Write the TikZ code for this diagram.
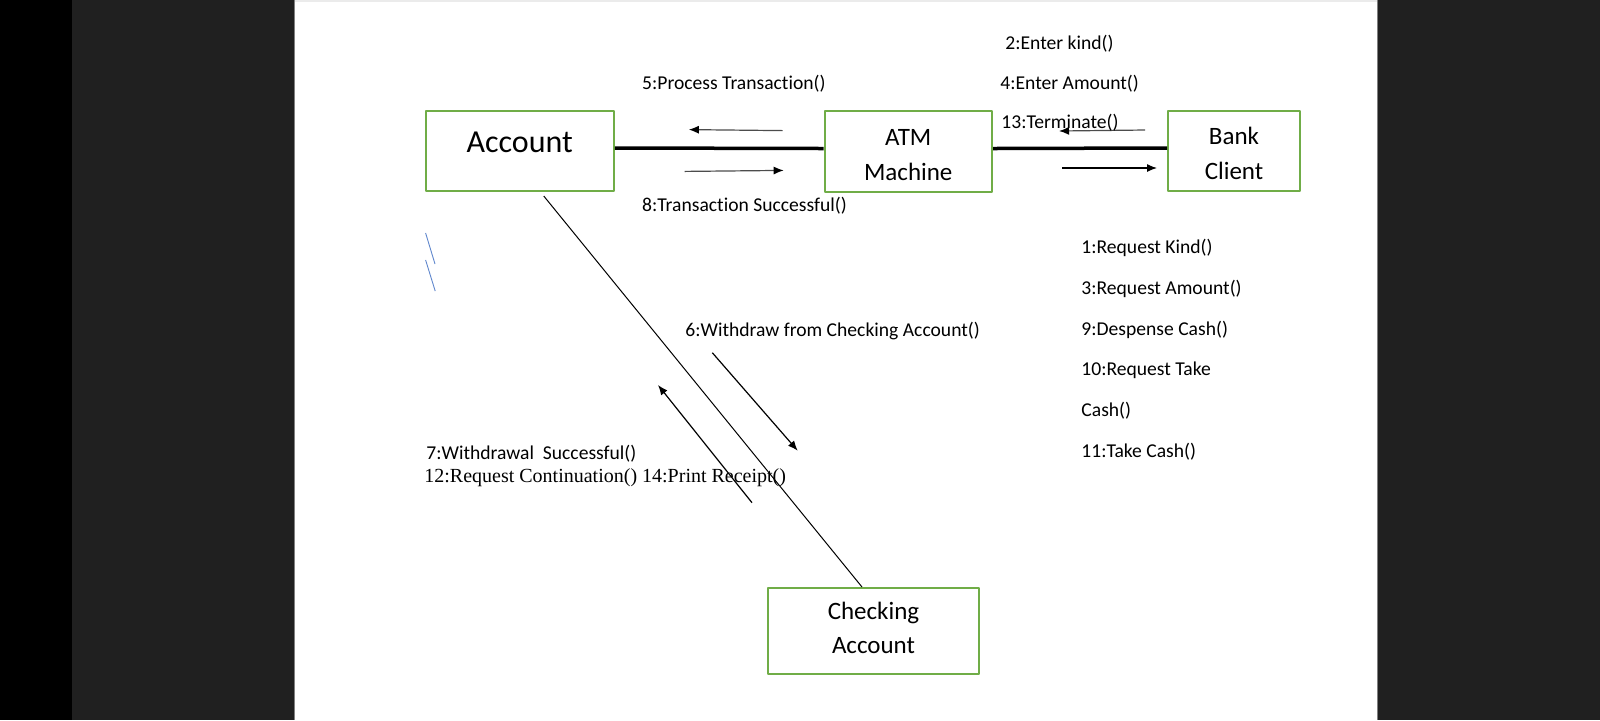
\documentclass[tikz,border=0pt]{standalone}
\usepackage{fontspec}
\setmainfont{Carlito}[Ligatures=NoCommon]
\newfontfamily\timesfont{Liberation Serif}
\usetikzlibrary{arrows.meta}
\definecolor{boxgreen}{HTML}{70AD47}
\definecolor{slashblue}{HTML}{4472C4}
\definecolor{viewer}{HTML}{202020}
\tikzset{
  obj/.style={draw=boxgreen,line width=1pt,inner sep=0pt},
  objtext/.style={align=center,inner sep=0pt,font=\fontsize{12.5}{17.3}\selectfont},
  msg/.style={anchor=west,inner sep=0pt,yshift=-0.5pt,font=\fontsize{9.8}{12}\selectfont},
  link/.style={line width=1.75pt},
  call/.style={-{Latex[length=5pt,width=4pt,color=black]},line width=0.6pt},
}
\begin{document}
\begin{tikzpicture}[x=0.5pt,y=-0.5pt,line join=round]
\useasboundingbox (0,0) rectangle (1600,720);
\fill[white](0,0) rectangle (1600,720);
\fill[black](0,0) rectangle (72,720);
\fill[viewer](72,0) rectangle (294,720);
\fill[viewer](1378,0) rectangle (1600,720);
\draw[gray,line width=0.6pt](294.5,0)--(294.5,720);
\draw[gray,line width=0.6pt](1377.5,0)--(1377.5,720);
\fill[black!8](295,0) rectangle (1377,2);

\node[obj,minimum width=94pt,minimum height=40pt,font=\fontsize{16}{19}\selectfont,text height=10.3pt,text depth=8.9pt] (account) at (519.75,151) {Account};
\node[obj,minimum width=83.75pt,minimum height=40.5pt,
  label={[objtext,yshift=-1.8pt]center:{ATM\\Machine}}] (atm) at (908.25,151.5) {};
\node[obj,minimum width=66pt,minimum height=40pt,
  label={[objtext,yshift=-1.3pt]center:{Bank\\Client}}] (bank) at (1234,151) {};
\node[obj,minimum width=105.5pt,minimum height=43pt,
  label={[objtext,font=\fontsize{12.5}{17}\selectfont,yshift=1.5pt]center:{Checking\\Account}}] (checking) at (873.5,631) {};

\draw[link]([yshift=1.5pt]account.east)--([yshift=1.5pt]atm.west);
\draw[link]([yshift=1.5pt]atm.east)--([yshift=1.5pt]bank.west);
\draw[line width=0.5pt]([xshift=12pt,yshift=-2pt]account.south)--([xshift=-5.75pt]checking.north);

\draw[call,black!70](782.7,130.6)--(688.8,129.6);
\draw[call,black!70](684.7,171.4)--(783.7,170.4);
\draw[call,black!70](1145,130)--(1059,131);
\draw[call](1062,168)--(1157,168);
\draw[call](712.3,352.7)--(797.7,450.7);
\draw[call](752,502.7)--(658,385);

\draw[slashblue!85,line width=0.45pt](425.6,233)--(435,264);
\draw[slashblue!85,line width=0.45pt](425.6,260)--(435.2,291);

  \node[msg] (m5)  at (641.8,82.7) {5:Process Transaction()};
  \node[msg] (m8)  at (641.8,205)  {8:Transaction Successful()};
  \node[msg] (m2)  at (1005,42.3)  {2:Enter kind()};
  \node[msg] (m4)  at (1000,83)    {4:Enter Amount()};
  \node[msg] (m13) at (1001,121.5) {13:Terminate()};
  \node[msg] (m1)  at (1081,247)   {1:Request Kind()};
  \node[msg] (m3)  at (1081,288)   {3:Request Amount()};
  \node[msg] (m9)  at (1081,328.6) {9:Despense Cash()};
  \node[msg] (m10) at (1081,369)   {10:Request Take};
  \node[msg] (m10b) at (1081,410)  {Cash()};
  \node[msg] (m11) at (1081,451)   {11:Take Cash()};
  \node[msg] (m6)  at (685,330)    {6:Withdraw from Checking Account()};
  \node[msg] (m7)  at (426,452.7)  {7:Withdrawal\ \ Successful()};
  \node[msg,font=\timesfont\fontsize{10}{12}\selectfont] (m12) at (424,477) {12:Request Continuation() 14:Print Receipt()};
\end{tikzpicture}
\end{document}
